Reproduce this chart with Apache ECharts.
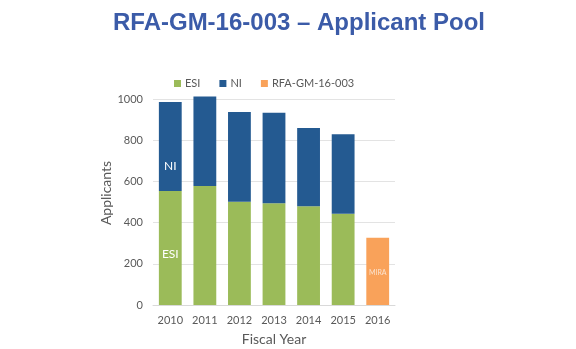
<!DOCTYPE html>
<html>
<head>
<meta charset="utf-8">
<script src="https://cdn.jsdelivr.net/npm/echarts@6/dist/echarts.min.js"></script>
<style>
html,body{margin:0;padding:0;background:#fff;}
#chart{width:576px;height:349px;}
</style>
</head>
<body>
<div id="chart"></div>
<script>
const categories = ['2010', '2011', '2012', '2013', '2014', '2015', '2016'];
const esiValues = [553, 578, 501, 494, 479, 443, null];
const niValues = [432, 434, 436, 439, 380, 386, null];
const rfaValues = [null, null, null, null, null, null, 327];
const yTicks = [0, 200, 400, 600, 800, 1000];
const seriesNames = ['ESI', 'NI', 'RFA-GM-16-003'];
const barLabels = { ESI: ['ESI'], NI: ['NI'], RFA: ['MIRA'] };

const chart = echarts.init(document.getElementById('chart'), null, { renderer: 'canvas' });
const tickFont = 'Lato, "Open Sans", sans-serif';

function withFirstLabel(values, text, offset, size) {
  return values.map((v, i) => {
    if (i === 0 && text) {
      return { value: v, label: { show: true, position: 'inside', formatter: text, color: '#fff', fontSize: size, offset: offset, fontFamily: tickFont } };
    }
    return v;
  });
}

const option = {
  animation: false,
  title: {
    text: 'RFA-GM-16-003 – Applicant Pool',
    left: 294, top: 6, textAlign: 'center',
    textStyle: { fontFamily: '"Liberation Sans", Arial, sans-serif', fontWeight: 'bold', fontSize: 24, color: '#3B5BA8' }
  },
  legend: {
    data: seriesNames,
    left: 169, top: 73,
    itemWidth: 7, itemHeight: 7, itemGap: 19,
    icon: 'rect',
    textStyle: { fontFamily: tickFont, fontSize: 11, color: '#595959', padding: [0, 0, 0, -1] }
  },
  grid: { left: 153, right: 181, top: 99, bottom: 44, outerBoundsMode: 'none', containLabel: false },
  xAxis: {
    type: 'category',
    data: categories,
    name: 'Fiscal Year',
    nameLocation: 'middle',
    nameGap: 27,
    nameTextStyle: { fontFamily: tickFont, fontSize: 14, color: '#595959' },
    axisLine: { lineStyle: { color: '#D9D9D9' } },
    axisTick: { show: false },
    axisLabel: { fontFamily: tickFont, fontSize: 11, color: '#595959', margin: 10 }
  },
  yAxis: {
    type: 'value',
    min: 0, max: 1000, interval: 200,
    name: 'Applicants',
    nameLocation: 'middle',
    nameGap: 29,
    nameTextStyle: { fontFamily: tickFont, fontSize: 14, color: '#595959', padding: [0, 0, 0, 18] },
    axisLine: { show: false },
    axisTick: { show: false },
    splitLine: { lineStyle: { color: '#E3E3E3' } },
    axisLabel: {
      fontFamily: tickFont, fontSize: 11, color: '#595959', margin: 10,
      formatter: v => yTicks.includes(v) ? String(v) : ''
    }
  },
  series: [
    {
      name: 'ESI', type: 'bar', stack: 'total', barWidth: '66%', clip: false,
      itemStyle: { color: '#9BBB59' },
      data: withFirstLabel(esiValues, barLabels.ESI[0], [0, 6], 12)
    },
    {
      name: 'NI', type: 'bar', stack: 'total', barWidth: '66%', clip: false,
      itemStyle: { color: '#245A91' },
      data: withFirstLabel(niValues, barLabels.NI[0], [0, 20], 12)
    },
    {
      name: 'RFA-GM-16-003', type: 'bar', stack: 'total', barWidth: '66%', clip: false,
      itemStyle: { color: '#F9A25A' },
      data: rfaValues.map((v, i) => i === 6 ? { value: v, label: { show: true, position: 'inside', formatter: barLabels.RFA[0], color: '#FBE3CF', fontSize: 7, offset: [0, 1], fontFamily: tickFont } } : v)
    }
  ]
};
chart.setOption(option);
</script>
</body>
</html>
